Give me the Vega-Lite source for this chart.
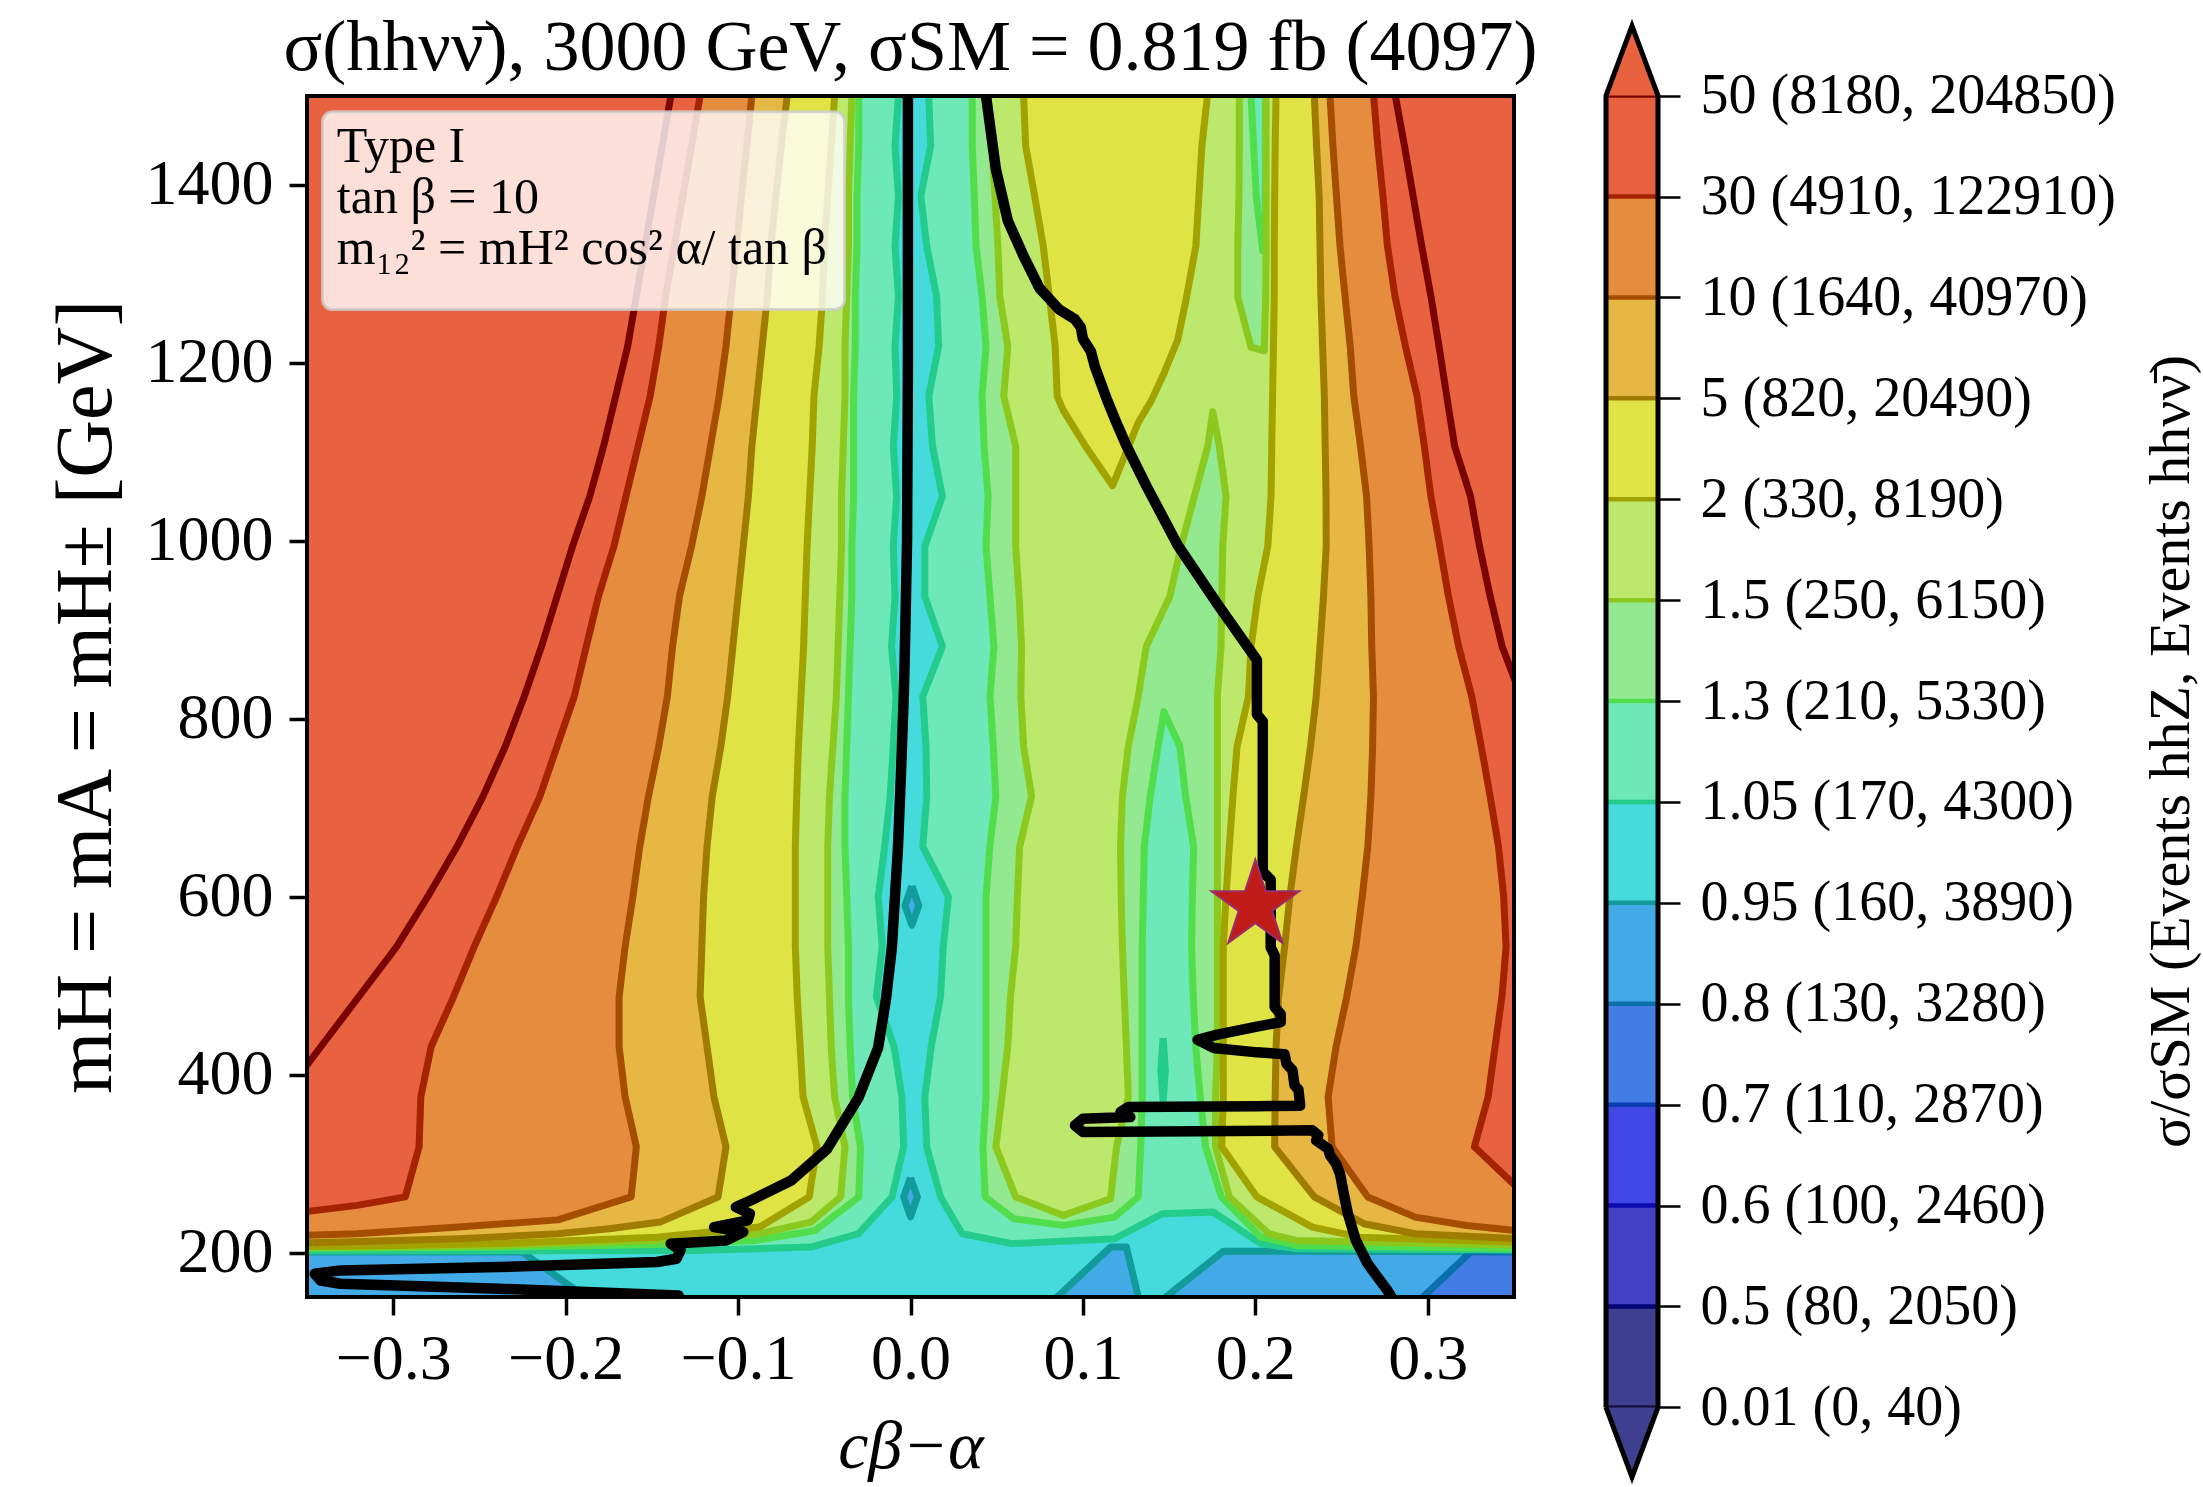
{
"$schema":"https://vega.github.io/schema/vega-lite/v6.json",
"background":"white",
"padding":{"left":46,"top":12,"right":5,"bottom":5},
"config":{"view":{"stroke":null},"font":"Liberation Serif","axis":{"labelFont":"Liberation Serif","titleFont":"Liberation Serif","labelColor":"black","titleColor":"black","tickColor":"black","domain":false,"grid":false,"titleFontWeight":"normal"}},
"datasets":{
"poly":[
{"g":"pL","x":-0.37,"y":200.5},{"g":"pL","x":-0.2251,"y":200.5},{"g":"pL","x":-0.1884,"y":150},{"g":"pL","x":-0.181,"y":140},{"g":"pL","x":-0.37,"y":140},
{"g":"pA","x":0.079,"y":140},{"g":"pA","x":0.0851,"y":150},{"g":"pA","x":0.116,"y":206.1},{"g":"pA","x":0.1252,"y":206.1},{"g":"pA","x":0.1321,"y":150},{"g":"pA","x":0.133,"y":140},
{"g":"pB","x":0.14,"y":140},{"g":"pB","x":0.1481,"y":150},{"g":"pB","x":0.1815,"y":201.5},{"g":"pB","x":0.37,"y":200.8},{"g":"pB","x":0.37,"y":140},
{"g":"d1","x":0.0008,"y":612},{"g":"d1","x":0.0048,"y":590},{"g":"d1","x":0.0008,"y":568},{"g":"d1","x":-0.0032,"y":590},{"g":"d1","x":0.0008,"y":612},
{"g":"d2","x":0,"y":284},{"g":"d2","x":0.004,"y":262.5},{"g":"d2","x":0,"y":240},{"g":"d2","x":-0.004,"y":262.5},{"g":"d2","x":0,"y":284},
{"g":"pC","x":0.293,"y":140},{"g":"pC","x":0.2972,"y":150},{"g":"pC","x":0.3248,"y":200.5},{"g":"pC","x":0.37,"y":200.5},{"g":"pC","x":0.37,"y":140},
{"g":"a105L","x":-0.37,"y":1520},{"g":"a105L","x":-0.007,"y":1520},{"g":"a105L","x":-0.007,"y":1500},{"g":"a105L","x":-0.009,"y":1443.8},{"g":"a105L","x":-0.007,"y":1387.5},{"g":"a105L","x":-0.009,"y":1331.3},{"g":"a105L","x":-0.007,"y":1275},{"g":"a105L","x":-0.009,"y":1218.8},{"g":"a105L","x":-0.008,"y":1162.5},{"g":"a105L","x":-0.01,"y":1106.3},{"g":"a105L","x":-0.008,"y":1050},{"g":"a105L","x":-0.01,"y":993.8},{"g":"a105L","x":-0.009,"y":937.5},{"g":"a105L","x":-0.011,"y":881.3},{"g":"a105L","x":-0.0084,"y":825},{"g":"a105L","x":-0.01,"y":768.8},{"g":"a105L","x":-0.0118,"y":712.5},{"g":"a105L","x":-0.015,"y":656.3},{"g":"a105L","x":-0.0187,"y":600},{"g":"a105L","x":-0.0164,"y":543.8},{"g":"a105L","x":-0.0198,"y":487.5},{"g":"a105L","x":-0.0095,"y":431.3},{"g":"a105L","x":-0.005,"y":375},{"g":"a105L","x":-0.004,"y":318.8},{"g":"a105L","x":-0.0107,"y":262.5},{"g":"a105L","x":-0.0302,"y":221.1},{"g":"a105L","x":-0.0577,"y":206.1},{"g":"a105L","x":-0.124,"y":202.4},{"g":"a105L","x":-0.355,"y":201.6},{"g":"a105L","x":-0.37,"y":201.6},
{"g":"a105R","x":0.0106,"y":1520},{"g":"a105R","x":0.0106,"y":1500},{"g":"a105R","x":0.0117,"y":1443.8},{"g":"a105R","x":0.006,"y":1387.5},{"g":"a105R","x":0.0094,"y":1331.3},{"g":"a105R","x":0.0151,"y":1275},{"g":"a105R","x":0.0163,"y":1218.8},{"g":"a105R","x":0.0106,"y":1162.5},{"g":"a105R","x":0.0128,"y":1106.3},{"g":"a105R","x":0.0185,"y":1050},{"g":"a105R","x":0.0083,"y":993.8},{"g":"a105R","x":0.0083,"y":937.5},{"g":"a105R","x":0.0185,"y":881.3},{"g":"a105R","x":0.0071,"y":825},{"g":"a105R","x":0.009,"y":768.8},{"g":"a105R","x":0.0094,"y":712.5},{"g":"a105R","x":0.0071,"y":656.3},{"g":"a105R","x":0.022,"y":600},{"g":"a105R","x":0.019,"y":543.8},{"g":"a105R","x":0.0174,"y":487.5},{"g":"a105R","x":0.012,"y":431.3},{"g":"a105R","x":0.0083,"y":375},{"g":"a105R","x":0.0094,"y":318.8},{"g":"a105R","x":0.0174,"y":262.5},{"g":"a105R","x":0.03,"y":221.1},{"g":"a105R","x":0.0587,"y":210},{"g":"a105R","x":0.1183,"y":215.5},{"g":"a105R","x":0.1459,"y":243.6},{"g":"a105R","x":0.1757,"y":245.5},{"g":"a105R","x":0.2032,"y":210},{"g":"a105R","x":0.2238,"y":204.2},{"g":"a105R","x":0.352,"y":202.8},{"g":"a105R","x":0.37,"y":202.8},{"g":"a105R","x":0.37,"y":1520},
{"g":"h105","x":0.1465,"y":441},{"g":"h105","x":0.1478,"y":405},{"g":"h105","x":0.1465,"y":370},{"g":"h105","x":0.1452,"y":405},{"g":"h105","x":0.1465,"y":441},
{"g":"a13L","x":-0.37,"y":1520},{"g":"a13L","x":-0.03,"y":1520},{"g":"a13L","x":-0.03,"y":1500},{"g":"a13L","x":-0.03,"y":1443.8},{"g":"a13L","x":-0.031,"y":1387.5},{"g":"a13L","x":-0.031,"y":1331.3},{"g":"a13L","x":-0.032,"y":1275},{"g":"a13L","x":-0.032,"y":1218.8},{"g":"a13L","x":-0.033,"y":1162.5},{"g":"a13L","x":-0.033,"y":1106.3},{"g":"a13L","x":-0.033,"y":1050},{"g":"a13L","x":-0.034,"y":993.8},{"g":"a13L","x":-0.034,"y":937.5},{"g":"a13L","x":-0.035,"y":881.3},{"g":"a13L","x":-0.036,"y":825},{"g":"a13L","x":-0.037,"y":768.8},{"g":"a13L","x":-0.038,"y":712.5},{"g":"a13L","x":-0.038,"y":656.3},{"g":"a13L","x":-0.037,"y":600},{"g":"a13L","x":-0.036,"y":543.8},{"g":"a13L","x":-0.036,"y":487.5},{"g":"a13L","x":-0.035,"y":431.3},{"g":"a13L","x":-0.0336,"y":375},{"g":"a13L","x":-0.029,"y":318.8},{"g":"a13L","x":-0.03,"y":262.5},{"g":"a13L","x":-0.0554,"y":224.8},{"g":"a13L","x":-0.0898,"y":213.6},{"g":"a13L","x":-0.147,"y":209},{"g":"a13L","x":-0.239,"y":206},{"g":"a13L","x":-0.355,"y":204.5},{"g":"a13L","x":-0.37,"y":204.5},
{"g":"a13R","x":0.0358,"y":1520},{"g":"a13R","x":0.0358,"y":1500},{"g":"a13R","x":0.0358,"y":1443.8},{"g":"a13R","x":0.037,"y":1387.5},{"g":"a13R","x":0.038,"y":1331.3},{"g":"a13R","x":0.0415,"y":1275},{"g":"a13R","x":0.0438,"y":1218.8},{"g":"a13R","x":0.0415,"y":1162.5},{"g":"a13R","x":0.0427,"y":1106.3},{"g":"a13R","x":0.045,"y":1050},{"g":"a13R","x":0.0438,"y":993.8},{"g":"a13R","x":0.0461,"y":937.5},{"g":"a13R","x":0.0484,"y":881.3},{"g":"a13R","x":0.0461,"y":825},{"g":"a13R","x":0.048,"y":768.8},{"g":"a13R","x":0.0495,"y":712.5},{"g":"a13R","x":0.046,"y":656.3},{"g":"a13R","x":0.0438,"y":600},{"g":"a13R","x":0.0438,"y":543.8},{"g":"a13R","x":0.0438,"y":487.5},{"g":"a13R","x":0.0438,"y":431.3},{"g":"a13R","x":0.0438,"y":375},{"g":"a13R","x":0.042,"y":318.8},{"g":"a13R","x":0.0433,"y":262.5},{"g":"a13R","x":0.0599,"y":238},{"g":"a13R","x":0.0886,"y":230.5},{"g":"a13R","x":0.1183,"y":239.8},{"g":"a13R","x":0.1321,"y":262.5},{"g":"a13R","x":0.1335,"y":318.8},{"g":"a13R","x":0.1344,"y":375},{"g":"a13R","x":0.1344,"y":431.3},{"g":"a13R","x":0.1344,"y":487.5},{"g":"a13R","x":0.1344,"y":543.8},{"g":"a13R","x":0.135,"y":600},{"g":"a13R","x":0.1356,"y":656.3},{"g":"a13R","x":0.139,"y":712.5},{"g":"a13R","x":0.1436,"y":768.8},{"g":"a13R","x":0.147,"y":808},{"g":"a13R","x":0.1562,"y":768.8},{"g":"a13R","x":0.1596,"y":712.5},{"g":"a13R","x":0.1642,"y":656.3},{"g":"a13R","x":0.1635,"y":600},{"g":"a13R","x":0.163,"y":543.8},{"g":"a13R","x":0.164,"y":487.5},{"g":"a13R","x":0.1654,"y":431.3},{"g":"a13R","x":0.168,"y":375},{"g":"a13R","x":0.1711,"y":318.8},{"g":"a13R","x":0.1803,"y":262.5},{"g":"a13R","x":0.2032,"y":217.3},{"g":"a13R","x":0.2238,"y":208},{"g":"a13R","x":0.352,"y":204.5},{"g":"a13R","x":0.37,"y":204.5},{"g":"a13R","x":0.37,"y":1520},
{"g":"h13","x":0.1975,"y":1520},{"g":"h13","x":0.1975,"y":1500},{"g":"h13","x":0.199,"y":1443.8},{"g":"h13","x":0.2005,"y":1387.5},{"g":"h13","x":0.2043,"y":1326},{"g":"h13","x":0.2058,"y":1335},{"g":"h13","x":0.2058,"y":1443.8},{"g":"h13","x":0.2058,"y":1520},
{"g":"a15L","x":-0.37,"y":1520},{"g":"a15L","x":-0.034,"y":1520},{"g":"a15L","x":-0.034,"y":1500},{"g":"a15L","x":-0.035,"y":1443.8},{"g":"a15L","x":-0.036,"y":1387.5},{"g":"a15L","x":-0.036,"y":1331.3},{"g":"a15L","x":-0.037,"y":1275},{"g":"a15L","x":-0.038,"y":1218.8},{"g":"a15L","x":-0.038,"y":1162.5},{"g":"a15L","x":-0.039,"y":1106.3},{"g":"a15L","x":-0.04,"y":1050},{"g":"a15L","x":-0.04,"y":993.8},{"g":"a15L","x":-0.041,"y":937.5},{"g":"a15L","x":-0.042,"y":881.3},{"g":"a15L","x":-0.043,"y":825},{"g":"a15L","x":-0.045,"y":768.8},{"g":"a15L","x":-0.047,"y":712.5},{"g":"a15L","x":-0.048,"y":656.3},{"g":"a15L","x":-0.048,"y":600},{"g":"a15L","x":-0.048,"y":543.8},{"g":"a15L","x":-0.047,"y":487.5},{"g":"a15L","x":-0.046,"y":431.3},{"g":"a15L","x":-0.044,"y":375},{"g":"a15L","x":-0.038,"y":318.8},{"g":"a15L","x":-0.0405,"y":262.5},{"g":"a15L","x":-0.0577,"y":234.2},{"g":"a15L","x":-0.0875,"y":221.1},{"g":"a15L","x":-0.147,"y":213.5},{"g":"a15L","x":-0.239,"y":208},{"g":"a15L","x":-0.355,"y":206},{"g":"a15L","x":-0.37,"y":206},
{"g":"a15R","x":0.0438,"y":1520},{"g":"a15R","x":0.0438,"y":1500},{"g":"a15R","x":0.047,"y":1443.8},{"g":"a15R","x":0.049,"y":1387.5},{"g":"a15R","x":0.0507,"y":1331.3},{"g":"a15R","x":0.0518,"y":1275},{"g":"a15R","x":0.0564,"y":1218.8},{"g":"a15R","x":0.0541,"y":1162.5},{"g":"a15R","x":0.061,"y":1106.3},{"g":"a15R","x":0.061,"y":1050},{"g":"a15R","x":0.061,"y":993.8},{"g":"a15R","x":0.063,"y":937.5},{"g":"a15R","x":0.0644,"y":881.3},{"g":"a15R","x":0.064,"y":825},{"g":"a15R","x":0.0656,"y":768.8},{"g":"a15R","x":0.0702,"y":712.5},{"g":"a15R","x":0.0633,"y":656.3},{"g":"a15R","x":0.062,"y":600},{"g":"a15R","x":0.061,"y":543.8},{"g":"a15R","x":0.058,"y":487.5},{"g":"a15R","x":0.0564,"y":431.3},{"g":"a15R","x":0.053,"y":375},{"g":"a15R","x":0.0495,"y":318.8},{"g":"a15R","x":0.061,"y":262.5},{"g":"a15R","x":0.0886,"y":241.7},{"g":"a15R","x":0.116,"y":260.5},{"g":"a15R","x":0.1195,"y":318.8},{"g":"a15R","x":0.1263,"y":375},{"g":"a15R","x":0.1252,"y":431.3},{"g":"a15R","x":0.124,"y":487.5},{"g":"a15R","x":0.1229,"y":543.8},{"g":"a15R","x":0.1222,"y":600},{"g":"a15R","x":0.1218,"y":656.3},{"g":"a15R","x":0.1229,"y":712.5},{"g":"a15R","x":0.1263,"y":768.8},{"g":"a15R","x":0.1321,"y":825},{"g":"a15R","x":0.1367,"y":881.3},{"g":"a15R","x":0.1504,"y":937.5},{"g":"a15R","x":0.1569,"y":993.8},{"g":"a15R","x":0.1646,"y":1050},{"g":"a15R","x":0.1724,"y":1106.3},{"g":"a15R","x":0.1753,"y":1145},{"g":"a15R","x":0.1791,"y":1106.3},{"g":"a15R","x":0.183,"y":1050},{"g":"a15R","x":0.1811,"y":993.8},{"g":"a15R","x":0.1805,"y":937.5},{"g":"a15R","x":0.1801,"y":881.3},{"g":"a15R","x":0.178,"y":825},{"g":"a15R","x":0.178,"y":768.8},{"g":"a15R","x":0.178,"y":712.5},{"g":"a15R","x":0.178,"y":656.3},{"g":"a15R","x":0.178,"y":600},{"g":"a15R","x":0.178,"y":543.8},{"g":"a15R","x":0.178,"y":487.5},{"g":"a15R","x":0.178,"y":431.3},{"g":"a15R","x":0.1769,"y":375},{"g":"a15R","x":0.1769,"y":318.8},{"g":"a15R","x":0.1849,"y":262.5},{"g":"a15R","x":0.2078,"y":221.1},{"g":"a15R","x":0.2238,"y":213.6},{"g":"a15R","x":0.352,"y":208},{"g":"a15R","x":0.37,"y":208},{"g":"a15R","x":0.37,"y":1520},{"g":"a15R","x":0.2062,"y":1520},{"g":"a15R","x":0.2062,"y":1500},{"g":"a15R","x":0.2062,"y":1443.8},{"g":"a15R","x":0.2062,"y":1387.5},{"g":"a15R","x":0.2062,"y":1331.3},{"g":"a15R","x":0.206,"y":1275},{"g":"a15R","x":0.2052,"y":1218.8},{"g":"a15R","x":0.2052,"y":1213.6},{"g":"a15R","x":0.1975,"y":1217.6},{"g":"a15R","x":0.1898,"y":1274},{"g":"a15R","x":0.1898,"y":1331.3},{"g":"a15R","x":0.1905,"y":1387.5},{"g":"a15R","x":0.1907,"y":1443.8},{"g":"a15R","x":0.1907,"y":1500},{"g":"a15R","x":0.1907,"y":1520},
{"g":"a2L","x":-0.37,"y":1520},{"g":"a2L","x":-0.044,"y":1520},{"g":"a2L","x":-0.044,"y":1500},{"g":"a2L","x":-0.046,"y":1443.8},{"g":"a2L","x":-0.048,"y":1387.5},{"g":"a2L","x":-0.05,"y":1331.3},{"g":"a2L","x":-0.051,"y":1275},{"g":"a2L","x":-0.053,"y":1218.8},{"g":"a2L","x":-0.056,"y":1162.5},{"g":"a2L","x":-0.057,"y":1106.3},{"g":"a2L","x":-0.0585,"y":1050},{"g":"a2L","x":-0.06,"y":993.8},{"g":"a2L","x":-0.061,"y":937.5},{"g":"a2L","x":-0.062,"y":881.3},{"g":"a2L","x":-0.0635,"y":825},{"g":"a2L","x":-0.065,"y":768.8},{"g":"a2L","x":-0.066,"y":712.5},{"g":"a2L","x":-0.0668,"y":656.3},{"g":"a2L","x":-0.0668,"y":600},{"g":"a2L","x":-0.0668,"y":543.8},{"g":"a2L","x":-0.0657,"y":487.5},{"g":"a2L","x":-0.064,"y":431.3},{"g":"a2L","x":-0.0623,"y":375},{"g":"a2L","x":-0.0542,"y":318.8},{"g":"a2L","x":-0.0588,"y":262.5},{"g":"a2L","x":-0.0875,"y":228.6},{"g":"a2L","x":-0.147,"y":217.3},{"g":"a2L","x":-0.239,"y":210},{"g":"a2L","x":-0.3,"y":208},{"g":"a2L","x":-0.355,"y":207},{"g":"a2L","x":-0.37,"y":207},
{"g":"a2M","x":0.0656,"y":1520},{"g":"a2M","x":0.0656,"y":1500},{"g":"a2M","x":0.0668,"y":1443.8},{"g":"a2M","x":0.072,"y":1387.5},{"g":"a2M","x":0.077,"y":1331.3},{"g":"a2M","x":0.0805,"y":1275},{"g":"a2M","x":0.0839,"y":1218.8},{"g":"a2M","x":0.0851,"y":1162.5},{"g":"a2M","x":0.0885,"y":1147},{"g":"a2M","x":0.1023,"y":1104},{"g":"a2M","x":0.1172,"y":1062},{"g":"a2M","x":0.1321,"y":1133},{"g":"a2M","x":0.1395,"y":1157},{"g":"a2M","x":0.1465,"y":1186},{"g":"a2M","x":0.155,"y":1226},{"g":"a2M","x":0.1597,"y":1270},{"g":"a2M","x":0.1655,"y":1331.3},{"g":"a2M","x":0.169,"y":1443.8},{"g":"a2M","x":0.1722,"y":1500},{"g":"a2M","x":0.1722,"y":1520},
{"g":"a2R","x":0.212,"y":1520},{"g":"a2R","x":0.212,"y":1500},{"g":"a2R","x":0.2115,"y":1443.8},{"g":"a2R","x":0.2112,"y":1387.5},{"g":"a2R","x":0.211,"y":1331.3},{"g":"a2R","x":0.211,"y":1275},{"g":"a2R","x":0.2105,"y":1218.8},{"g":"a2R","x":0.21,"y":1162.5},{"g":"a2R","x":0.2095,"y":1106.3},{"g":"a2R","x":0.2091,"y":1050},{"g":"a2R","x":0.2072,"y":993.8},{"g":"a2R","x":0.2014,"y":937.5},{"g":"a2R","x":0.1975,"y":881.3},{"g":"a2R","x":0.196,"y":825},{"g":"a2R","x":0.1894,"y":768.8},{"g":"a2R","x":0.187,"y":712.5},{"g":"a2R","x":0.1849,"y":656.3},{"g":"a2R","x":0.183,"y":600},{"g":"a2R","x":0.1814,"y":543.8},{"g":"a2R","x":0.1814,"y":487.5},{"g":"a2R","x":0.1814,"y":431.3},{"g":"a2R","x":0.1814,"y":375},{"g":"a2R","x":0.1805,"y":318.8},{"g":"a2R","x":0.2009,"y":262.5},{"g":"a2R","x":0.233,"y":228.6},{"g":"a2R","x":0.2605,"y":217.3},{"g":"a2R","x":0.352,"y":211.7},{"g":"a2R","x":0.37,"y":211.5},{"g":"a2R","x":0.37,"y":1520},
{"g":"a5L","x":-0.37,"y":1520},{"g":"a5L","x":-0.0715,"y":1520},{"g":"a5L","x":-0.0715,"y":1500},{"g":"a5L","x":-0.075,"y":1443.8},{"g":"a5L","x":-0.078,"y":1387.5},{"g":"a5L","x":-0.081,"y":1331.3},{"g":"a5L","x":-0.083,"y":1275},{"g":"a5L","x":-0.086,"y":1218.8},{"g":"a5L","x":-0.089,"y":1162.5},{"g":"a5L","x":-0.092,"y":1106.3},{"g":"a5L","x":-0.094,"y":1050},{"g":"a5L","x":-0.097,"y":993.8},{"g":"a5L","x":-0.1,"y":937.5},{"g":"a5L","x":-0.103,"y":881.3},{"g":"a5L","x":-0.106,"y":825},{"g":"a5L","x":-0.11,"y":768.8},{"g":"a5L","x":-0.115,"y":712.5},{"g":"a5L","x":-0.118,"y":656.3},{"g":"a5L","x":-0.12,"y":600},{"g":"a5L","x":-0.121,"y":543.8},{"g":"a5L","x":-0.122,"y":487.5},{"g":"a5L","x":-0.118,"y":431.3},{"g":"a5L","x":-0.114,"y":375},{"g":"a5L","x":-0.107,"y":318.8},{"g":"a5L","x":-0.1116,"y":262.5},{"g":"a5L","x":-0.1452,"y":234.2},{"g":"a5L","x":-0.1747,"y":226.7},{"g":"a5L","x":-0.2045,"y":221.1},{"g":"a5L","x":-0.262,"y":215.5},{"g":"a5L","x":-0.331,"y":211.7},{"g":"a5L","x":-0.355,"y":210.8},{"g":"a5L","x":-0.37,"y":210.5},
{"g":"a5R","x":0.2342,"y":1520},{"g":"a5R","x":0.2342,"y":1500},{"g":"a5R","x":0.2355,"y":1443.8},{"g":"a5R","x":0.237,"y":1387.5},{"g":"a5R","x":0.2375,"y":1331.3},{"g":"a5R","x":0.238,"y":1275},{"g":"a5R","x":0.239,"y":1218.8},{"g":"a5R","x":0.24,"y":1162.5},{"g":"a5R","x":0.2405,"y":1106.3},{"g":"a5R","x":0.241,"y":1050},{"g":"a5R","x":0.2411,"y":993.8},{"g":"a5R","x":0.2395,"y":937.5},{"g":"a5R","x":0.2375,"y":881.3},{"g":"a5R","x":0.2353,"y":825},{"g":"a5R","x":0.232,"y":768.8},{"g":"a5R","x":0.228,"y":712.5},{"g":"a5R","x":0.2238,"y":656.3},{"g":"a5R","x":0.22,"y":600},{"g":"a5R","x":0.217,"y":543.8},{"g":"a5R","x":0.2135,"y":487.5},{"g":"a5R","x":0.212,"y":431.3},{"g":"a5R","x":0.2115,"y":375},{"g":"a5R","x":0.2112,"y":318.8},{"g":"a5R","x":0.2342,"y":262.5},{"g":"a5R","x":0.2629,"y":232.4},{"g":"a5R","x":0.2927,"y":221.1},{"g":"a5R","x":0.352,"y":215.5},{"g":"a5R","x":0.37,"y":215},{"g":"a5R","x":0.37,"y":1520},
{"g":"a10L","x":-0.37,"y":1520},{"g":"a10L","x":-0.092,"y":1520},{"g":"a10L","x":-0.092,"y":1500},{"g":"a10L","x":-0.095,"y":1443.8},{"g":"a10L","x":-0.098,"y":1387.5},{"g":"a10L","x":-0.101,"y":1331.3},{"g":"a10L","x":-0.104,"y":1275},{"g":"a10L","x":-0.107,"y":1218.8},{"g":"a10L","x":-0.111,"y":1162.5},{"g":"a10L","x":-0.116,"y":1106.3},{"g":"a10L","x":-0.121,"y":1050},{"g":"a10L","x":-0.127,"y":993.8},{"g":"a10L","x":-0.134,"y":937.5},{"g":"a10L","x":-0.138,"y":881.3},{"g":"a10L","x":-0.141,"y":825},{"g":"a10L","x":-0.146,"y":768.8},{"g":"a10L","x":-0.152,"y":712.5},{"g":"a10L","x":-0.157,"y":656.3},{"g":"a10L","x":-0.161,"y":600},{"g":"a10L","x":-0.1655,"y":543.8},{"g":"a10L","x":-0.169,"y":487.5},{"g":"a10L","x":-0.169,"y":431.3},{"g":"a10L","x":-0.1655,"y":375},{"g":"a10L","x":-0.159,"y":318.8},{"g":"a10L","x":-0.162,"y":262.5},{"g":"a10L","x":-0.2045,"y":236.7},{"g":"a10L","x":-0.262,"y":228.6},{"g":"a10L","x":-0.321,"y":221},{"g":"a10L","x":-0.355,"y":219},{"g":"a10L","x":-0.37,"y":218.5},
{"g":"a10R","x":0.2433,"y":1520},{"g":"a10R","x":0.2433,"y":1500},{"g":"a10R","x":0.245,"y":1443.8},{"g":"a10R","x":0.247,"y":1387.5},{"g":"a10R","x":0.2491,"y":1331.3},{"g":"a10R","x":0.252,"y":1275},{"g":"a10R","x":0.255,"y":1218.8},{"g":"a10R","x":0.2571,"y":1162.5},{"g":"a10R","x":0.261,"y":1106.3},{"g":"a10R","x":0.2645,"y":1050},{"g":"a10R","x":0.266,"y":993.8},{"g":"a10R","x":0.267,"y":937.5},{"g":"a10R","x":0.2675,"y":881.3},{"g":"a10R","x":0.2685,"y":825},{"g":"a10R","x":0.268,"y":768.8},{"g":"a10R","x":0.267,"y":712.5},{"g":"a10R","x":0.2652,"y":656.3},{"g":"a10R","x":0.262,"y":600},{"g":"a10R","x":0.2583,"y":543.8},{"g":"a10R","x":0.253,"y":487.5},{"g":"a10R","x":0.2468,"y":431.3},{"g":"a10R","x":0.2422,"y":375},{"g":"a10R","x":0.2445,"y":318.8},{"g":"a10R","x":0.2652,"y":262.5},{"g":"a10R","x":0.2927,"y":239.8},{"g":"a10R","x":0.3225,"y":230.4},{"g":"a10R","x":0.352,"y":224.5},{"g":"a10R","x":0.37,"y":224},{"g":"a10R","x":0.37,"y":1520},
{"g":"a30L","x":-0.37,"y":1520},{"g":"a30L","x":-0.122,"y":1520},{"g":"a30L","x":-0.122,"y":1500},{"g":"a30L","x":-0.127,"y":1443.8},{"g":"a30L","x":-0.132,"y":1387.5},{"g":"a30L","x":-0.137,"y":1331.3},{"g":"a30L","x":-0.142,"y":1275},{"g":"a30L","x":-0.146,"y":1218.8},{"g":"a30L","x":-0.151,"y":1162.5},{"g":"a30L","x":-0.158,"y":1106.3},{"g":"a30L","x":-0.165,"y":1050},{"g":"a30L","x":-0.172,"y":993.8},{"g":"a30L","x":-0.181,"y":937.5},{"g":"a30L","x":-0.188,"y":881.3},{"g":"a30L","x":-0.195,"y":825},{"g":"a30L","x":-0.205,"y":768.8},{"g":"a30L","x":-0.215,"y":712.5},{"g":"a30L","x":-0.228,"y":656.3},{"g":"a30L","x":-0.24,"y":600},{"g":"a30L","x":-0.253,"y":543.8},{"g":"a30L","x":-0.265,"y":487.5},{"g":"a30L","x":-0.278,"y":431.3},{"g":"a30L","x":-0.284,"y":375},{"g":"a30L","x":-0.285,"y":318.8},{"g":"a30L","x":-0.293,"y":262.5},{"g":"a30L","x":-0.321,"y":253},{"g":"a30L","x":-0.355,"y":245},{"g":"a30L","x":-0.37,"y":244},
{"g":"a30R","x":0.2686,"y":1520},{"g":"a30R","x":0.2686,"y":1500},{"g":"a30R","x":0.271,"y":1443.8},{"g":"a30R","x":0.274,"y":1387.5},{"g":"a30R","x":0.2766,"y":1331.3},{"g":"a30R","x":0.281,"y":1275},{"g":"a30R","x":0.287,"y":1218.8},{"g":"a30R","x":0.2938,"y":1162.5},{"g":"a30R","x":0.298,"y":1106.3},{"g":"a30R","x":0.3018,"y":1050},{"g":"a30R","x":0.307,"y":993.8},{"g":"a30R","x":0.312,"y":937.5},{"g":"a30R","x":0.3179,"y":881.3},{"g":"a30R","x":0.3255,"y":825},{"g":"a30R","x":0.331,"y":768.8},{"g":"a30R","x":0.3362,"y":712.5},{"g":"a30R","x":0.341,"y":656.3},{"g":"a30R","x":0.344,"y":600},{"g":"a30R","x":0.3454,"y":543.8},{"g":"a30R","x":0.343,"y":487.5},{"g":"a30R","x":0.339,"y":431.3},{"g":"a30R","x":0.335,"y":375},{"g":"a30R","x":0.327,"y":318.8},{"g":"a30R","x":0.352,"y":273},{"g":"a30R","x":0.37,"y":270},{"g":"a30R","x":0.37,"y":1520},
{"g":"a50L","x":-0.37,"y":1520},{"g":"a50L","x":-0.139,"y":1520},{"g":"a50L","x":-0.139,"y":1500},{"g":"a50L","x":-0.144,"y":1443.8},{"g":"a50L","x":-0.149,"y":1387.5},{"g":"a50L","x":-0.154,"y":1331.3},{"g":"a50L","x":-0.159,"y":1275},{"g":"a50L","x":-0.164,"y":1218.8},{"g":"a50L","x":-0.171,"y":1162.5},{"g":"a50L","x":-0.178,"y":1106.3},{"g":"a50L","x":-0.186,"y":1050},{"g":"a50L","x":-0.196,"y":993.8},{"g":"a50L","x":-0.205,"y":937.5},{"g":"a50L","x":-0.214,"y":881.3},{"g":"a50L","x":-0.224,"y":825},{"g":"a50L","x":-0.235,"y":768.8},{"g":"a50L","x":-0.248,"y":712.5},{"g":"a50L","x":-0.263,"y":656.3},{"g":"a50L","x":-0.28,"y":600},{"g":"a50L","x":-0.298,"y":543.8},{"g":"a50L","x":-0.32,"y":487.5},{"g":"a50L","x":-0.342,"y":431.3},{"g":"a50L","x":-0.355,"y":398},{"g":"a50L","x":-0.37,"y":395},
{"g":"a50R","x":0.2812,"y":1520},{"g":"a50R","x":0.2812,"y":1500},{"g":"a50R","x":0.2865,"y":1443.8},{"g":"a50R","x":0.2915,"y":1387.5},{"g":"a50R","x":0.2965,"y":1331.3},{"g":"a50R","x":0.3018,"y":1275},{"g":"a50R","x":0.3065,"y":1218.8},{"g":"a50R","x":0.311,"y":1162.5},{"g":"a50R","x":0.3156,"y":1106.3},{"g":"a50R","x":0.3248,"y":1050},{"g":"a50R","x":0.33,"y":993.8},{"g":"a50R","x":0.3362,"y":937.5},{"g":"a50R","x":0.3431,"y":881.3},{"g":"a50R","x":0.352,"y":836},{"g":"a50R","x":0.37,"y":828},{"g":"a50R","x":0.37,"y":1520}
],
"black":[
{"g":"L","x":-0.0015,"y":1500},{"g":"L","x":-0.0015,"y":1200},{"g":"L","x":-0.002,"y":1000},{"g":"L","x":-0.003,"y":900},{"g":"L","x":-0.0038,"y":832},{"g":"L","x":-0.0055,"y":740},{"g":"L","x":-0.0073,"y":654},{"g":"L","x":-0.0108,"y":543},{"g":"L","x":-0.0142,"y":485},{"g":"L","x":-0.0188,"y":430},{"g":"L","x":-0.0302,"y":374},{"g":"L","x":-0.0485,"y":316},{"g":"L","x":-0.0692,"y":281},{"g":"L","x":-0.0921,"y":259},{"g":"L","x":-0.1013,"y":251.1},{"g":"L","x":-0.0932,"y":243.6},{"g":"L","x":-0.0944,"y":236.1},{"g":"L","x":-0.1139,"y":228.6},{"g":"L","x":-0.097,"y":223},{"g":"L","x":-0.107,"y":213.6},{"g":"L","x":-0.1391,"y":209.9},{"g":"L","x":-0.1334,"y":202.4},{"g":"L","x":-0.1357,"y":193},{"g":"L","x":-0.1471,"y":189.3},{"g":"L","x":-0.2389,"y":183.6},{"g":"L","x":-0.3306,"y":179.9},{"g":"L","x":-0.3455,"y":176.1},{"g":"L","x":-0.3421,"y":168.6},{"g":"L","x":-0.3306,"y":164.9},{"g":"L","x":-0.2389,"y":159.3},{"g":"L","x":-0.1345,"y":151.8},
{"g":"R","x":0.0438,"y":1500},{"g":"R","x":0.0495,"y":1418},{"g":"R","x":0.0564,"y":1360},{"g":"R","x":0.0656,"y":1320},{"g":"R","x":0.0748,"y":1284},{"g":"R","x":0.0862,"y":1260},{"g":"R","x":0.0954,"y":1249},{"g":"R","x":0.0988,"y":1240},{"g":"R","x":0.1,"y":1227},{"g":"R","x":0.1046,"y":1213},{"g":"R","x":0.1069,"y":1196},{"g":"R","x":0.1103,"y":1178},{"g":"R","x":0.1137,"y":1160},{"g":"R","x":0.1183,"y":1138},{"g":"R","x":0.1252,"y":1107},{"g":"R","x":0.1367,"y":1062},{"g":"R","x":0.155,"y":995},{"g":"R","x":0.178,"y":929},{"g":"R","x":0.2009,"y":866},{"g":"R","x":0.2009,"y":805},{"g":"R","x":0.2043,"y":797},{"g":"R","x":0.2043,"y":628},{"g":"R","x":0.2089,"y":619},{"g":"R","x":0.2089,"y":543},{"g":"R","x":0.2112,"y":534},{"g":"R","x":0.2112,"y":476},{"g":"R","x":0.2147,"y":468},{"g":"R","x":0.2147,"y":459},{"g":"R","x":0.2009,"y":454},{"g":"R","x":0.178,"y":445},{"g":"R","x":0.1665,"y":439},{"g":"R","x":0.1757,"y":430},{"g":"R","x":0.2009,"y":425},{"g":"R","x":0.2169,"y":423},{"g":"R","x":0.2181,"y":412},{"g":"R","x":0.2215,"y":405},{"g":"R","x":0.2227,"y":388},{"g":"R","x":0.225,"y":383},{"g":"R","x":0.226,"y":365},{"g":"R","x":0.2009,"y":364.4},{"g":"R","x":0.1264,"y":363.5},{"g":"R","x":0.1218,"y":357.9},{"g":"R","x":0.1275,"y":352.3},{"g":"R","x":0.1,"y":350.4},{"g":"R","x":0.0954,"y":342.9},{"g":"R","x":0.1,"y":335.4},{"g":"R","x":0.233,"y":337.3},{"g":"R","x":0.2365,"y":331.7},{"g":"R","x":0.2353,"y":326.1},{"g":"R","x":0.2422,"y":316.7},{"g":"R","x":0.2433,"y":309.2},{"g":"R","x":0.2468,"y":299.8},{"g":"R","x":0.2491,"y":288.6},{"g":"R","x":0.2514,"y":265},{"g":"R","x":0.2537,"y":243.6},{"g":"R","x":0.2583,"y":213.6},{"g":"R","x":0.2651,"y":187.4},{"g":"R","x":0.2766,"y":157.4},{"g":"R","x":0.2789,"y":150}
],
"star":[{"x":0.2,"y":590}],
"cb":[{"b":0,"lo":0,"hi":1},{"b":1,"lo":1,"hi":2},{"b":2,"lo":2,"hi":3},{"b":3,"lo":3,"hi":4},{"b":4,"lo":4,"hi":5},{"b":5,"lo":5,"hi":6},{"b":6,"lo":6,"hi":7},{"b":7,"lo":7,"hi":8},{"b":8,"lo":8,"hi":9},{"b":9,"lo":9,"hi":10},{"b":10,"lo":10,"hi":11},{"b":11,"lo":11,"hi":12},{"b":12,"lo":12,"hi":13}],
"clev":[{"lv":0},{"lv":1},{"lv":2},{"lv":3},{"lv":4},{"lv":5},{"lv":6},{"lv":7},{"lv":8},{"lv":9},{"lv":10},{"lv":11},{"lv":12},{"lv":13}],
"ctri":[{"t":"top","x":0,"y":13},{"t":"top","x":0.5,"y":13.69},{"t":"top","x":1,"y":13},{"t":"bot","x":0,"y":0},{"t":"bot","x":0.5,"y":-0.69},{"t":"bot","x":1,"y":0}],
"cout":[{"x":0,"y":0},{"x":0.5,"y":-0.69},{"x":1,"y":0},{"x":1,"y":13},{"x":0.5,"y":13.69},{"x":0,"y":13},{"x":0,"y":0}]
},
"spacing":58,
"hconcat":[
{"spacing":10,"vconcat":[
{"width":1207,"height":44,"data":{"values":[{}]},"mark":{"type":"text","text":"σ(hhνν̄), 3000 GeV, σSM = 0.819 fb (4097)","fontSize":72,"font":"Liberation Serif","align":"center","baseline":"middle","color":"black"}},
{
"width":1207,"height":1201,
"layer":[
{"data":{"values":[{}]},"mark":{"type":"rect","fill":"#45dadc"},"encoding":{"x":{"datum":-0.35,"type":"quantitative","scale":{"domain":[-0.35,0.35]}},"x2":{"datum":0.35},"y":{"datum":150,"type":"quantitative","scale":{"domain":[150,1500]}},"y2":{"datum":1500}}},
{"data":{"name":"poly"},"transform":[{"filter":{"field":"g","oneOf":["pL","pA","pB","d1","d2"]}}],"mark":{"type":"line","fill":"#42aae6","stroke":"#119b9b","strokeWidth":7,"strokeJoin":"round","clip":true},"encoding":{
"x":{"field":"x","type":"quantitative","scale":{"domain":[-0.35,0.35],"nice":false,"zero":false},"axis":{"title":"cβ−α","values":[-0.3,-0.2,-0.1,0,0.1,0.2,0.3],"format":".1f","labelFontSize":64,"titleFontSize":68,"titleFontStyle":"italic","tickSize":18,"tickWidth":3.5,"labelPadding":12,"titlePadding":22}},
"y":{"field":"y","type":"quantitative","scale":{"domain":[150,1500],"nice":false,"zero":false},"axis":{"title":"mH = mA = mH± [GeV]","values":[200,400,600,800,1000,1200,1400],"format":"d","labelFontSize":64,"titleFontSize":80,"tickSize":18,"tickWidth":3.5,"labelPadding":16,"titlePadding":18}},
"detail":{"field":"g"},"order":{"value":null}}},
{"data":{"name":"poly"},"transform":[{"filter":{"field":"g","oneOf":["pC"]}}],"mark":{"type":"line","fill":"#427de6","stroke":"#0a70ad","strokeWidth":7,"strokeJoin":"round","clip":true},"encoding":{"x":{"field":"x","type":"quantitative"},"y":{"field":"y","type":"quantitative"},"detail":{"field":"g"},"order":{"value":null}}},
{"data":{"name":"poly"},"transform":[{"filter":{"field":"g","oneOf":["a105L","a105R"]}}],"mark":{"type":"line","fill":"#6de8b9","stroke":"#23cc8c","strokeWidth":7,"strokeJoin":"round","clip":true},"encoding":{"x":{"field":"x","type":"quantitative"},"y":{"field":"y","type":"quantitative"},"detail":{"field":"g"},"order":{"value":null}}},
{"data":{"name":"poly"},"transform":[{"filter":{"field":"g","oneOf":["h105"]}}],"mark":{"type":"line","fill":"#45dadc","stroke":"#23cc8c","strokeWidth":7,"strokeJoin":"round","clip":true},"encoding":{"x":{"field":"x","type":"quantitative"},"y":{"field":"y","type":"quantitative"},"detail":{"field":"g"},"order":{"value":null}}},
{"data":{"name":"poly"},"transform":[{"filter":{"field":"g","oneOf":["a13L","a13R"]}}],"mark":{"type":"line","fill":"#93e98f","stroke":"#52dd4c","strokeWidth":7,"strokeJoin":"round","clip":true},"encoding":{"x":{"field":"x","type":"quantitative"},"y":{"field":"y","type":"quantitative"},"detail":{"field":"g"},"order":{"value":null}}},
{"data":{"name":"poly"},"transform":[{"filter":{"field":"g","oneOf":["h13"]}}],"mark":{"type":"line","fill":"#6de8b9","stroke":"#52dd4c","strokeWidth":7,"strokeJoin":"round","clip":true},"encoding":{"x":{"field":"x","type":"quantitative"},"y":{"field":"y","type":"quantitative"},"detail":{"field":"g"},"order":{"value":null}}},
{"data":{"name":"poly"},"transform":[{"filter":{"field":"g","oneOf":["a15L","a15R"]}}],"mark":{"type":"line","fill":"#bce86b","stroke":"#8bc91f","strokeWidth":7,"strokeJoin":"round","clip":true},"encoding":{"x":{"field":"x","type":"quantitative"},"y":{"field":"y","type":"quantitative"},"detail":{"field":"g"},"order":{"value":null}}},
{"data":{"name":"poly"},"transform":[{"filter":{"field":"g","oneOf":["a2L","a2M","a2R"]}}],"mark":{"type":"line","fill":"#dfe444","stroke":"#a2a200","strokeWidth":7,"strokeJoin":"round","clip":true},"encoding":{"x":{"field":"x","type":"quantitative"},"y":{"field":"y","type":"quantitative"},"detail":{"field":"g"},"order":{"value":null}}},
{"data":{"name":"poly"},"transform":[{"filter":{"field":"g","oneOf":["a5L","a5R"]}}],"mark":{"type":"line","fill":"#e6b843","stroke":"#9f7b00","strokeWidth":7,"strokeJoin":"round","clip":true},"encoding":{"x":{"field":"x","type":"quantitative"},"y":{"field":"y","type":"quantitative"},"detail":{"field":"g"},"order":{"value":null}}},
{"data":{"name":"poly"},"transform":[{"filter":{"field":"g","oneOf":["a10L","a10R"]}}],"mark":{"type":"line","fill":"#e68c3f","stroke":"#a54d00","strokeWidth":7,"strokeJoin":"round","clip":true},"encoding":{"x":{"field":"x","type":"quantitative"},"y":{"field":"y","type":"quantitative"},"detail":{"field":"g"},"order":{"value":null}}},
{"data":{"name":"poly"},"transform":[{"filter":{"field":"g","oneOf":["a30L","a30R"]}}],"mark":{"type":"line","fill":"#e8623f","stroke":"#a52300","strokeWidth":7,"strokeJoin":"round","clip":true},"encoding":{"x":{"field":"x","type":"quantitative"},"y":{"field":"y","type":"quantitative"},"detail":{"field":"g"},"order":{"value":null}}},
{"data":{"name":"poly"},"transform":[{"filter":{"field":"g","oneOf":["a50L","a50R"]}}],"mark":{"type":"line","fill":"#e8623f","stroke":"#7a0403","strokeWidth":7,"strokeJoin":"round","clip":true},"encoding":{"x":{"field":"x","type":"quantitative"},"y":{"field":"y","type":"quantitative"},"detail":{"field":"g"},"order":{"value":null}}},
{"data":{"name":"black"},"mark":{"type":"line","stroke":"black","strokeWidth":10.5,"strokeJoin":"round","strokeCap":"round","clip":true},"encoding":{"x":{"field":"x","type":"quantitative"},"y":{"field":"y","type":"quantitative"},"detail":{"field":"g"},"order":{"value":null}}},
{"data":{"name":"star"},"mark":{"type":"point","shape":"M0,-1L0.2245,-0.309L0.951,-0.309L0.363,0.118L0.588,0.809L0,0.382L-0.588,0.809L-0.363,0.118L-0.951,-0.309L-0.2245,-0.309Z","size":8500,"filled":true,"fill":"#c11b17","stroke":"#9b2d6e","strokeWidth":2,"opacity":1},"encoding":{"x":{"field":"x","type":"quantitative"},"y":{"field":"y","type":"quantitative"}}},
{"data":{"values":[{}]},"mark":{"type":"rect","fill":"transparent","stroke":"black","strokeWidth":4},"encoding":{"x":{"datum":-0.35,"type":"quantitative"},"x2":{"datum":0.35},"y":{"datum":150,"type":"quantitative"},"y2":{"datum":1500}}},
{"data":{"values":[{}]},"mark":{"type":"rect","fill":"white","fillOpacity":0.8,"stroke":"#cccccc","strokeOpacity":0.8,"strokeWidth":3,"cornerRadius":10},"encoding":{"x":{"datum":-0.341,"type":"quantitative"},"x2":{"datum":-0.0382},"y":{"datum":1259.9,"type":"quantitative"},"y2":{"datum":1482.3}}},
{"data":{"values":[{}]},"mark":{"type":"text","align":"left","baseline":"alphabetic","fontSize":50,"lineHeight":51,"font":"Liberation Serif","color":"black"},"encoding":{"x":{"datum":-0.3327,"type":"quantitative"},"y":{"datum":1425.8,"type":"quantitative"},"text":{"value":["Type I","tan β = 10","m₁₂² = mH² cos² α/ tan β"]}}}
]
}
]},
{
"width":52,"height":1451,
"layer":[
{"data":{"name":"cb"},"mark":{"type":"rect"},"encoding":{
"x":{"datum":0,"type":"quantitative","scale":{"domain":[0,1],"nice":false,"zero":false},"axis":null},
"x2":{"datum":1},
"y":{"field":"lo","type":"quantitative","scale":{"domain":[-0.69,13.69],"nice":false,"zero":false},"axis":{"orient":"right","values":[0,1,2,3,4,5,6,7,8,9,10,11,12,13],"labelExpr":"['0.01 (0, 40)','0.5 (80, 2050)','0.6 (100, 2460)','0.7 (110, 2870)','0.8 (130, 3280)','0.95 (160, 3890)','1.05 (170, 4300)','1.3 (210, 5330)','1.5 (250, 6150)','2 (330, 8190)','5 (820, 20490)','10 (1640, 40970)','30 (4910, 122910)','50 (8180, 204850)'][datum.value]","labelFontSize":56,"labelLimit":1000,"tickSize":22,"tickWidth":2.5,"labelPadding":20,"labelFlush":false,"labelOverlap":false,"title":"σ/σSM (Events hhZ, Events hhνν̄)","titleFontSize":58,"titleAngle":270,"titleAlign":"center","titleBaseline":"middle","titleX":513,"titleY":725}},
"y2":{"field":"hi"},
"color":{"field":"b","type":"ordinal","scale":{"domain":[0,1,2,3,4,5,6,7,8,9,10,11,12],"range":["#3e3f8f","#4242c7","#4147e2","#427de6","#42aae6","#45dadc","#6de8b9","#93e98f","#bce86b","#dfe444","#e6b843","#e68c3f","#e8623f"]},"legend":null}
}},
{"data":{"name":"clev"},"mark":{"type":"rule","strokeWidth":4.5},"encoding":{"y":{"field":"lv","type":"quantitative"},"stroke":{"field":"lv","type":"ordinal","scale":{"domain":[0,1,2,3,4,5,6,7,8,9,10,11,12,13],"range":["#14103a","#05057a","#0b0bb0","#0b3cb4","#0a70ad","#119b9b","#23cc8c","#52dd4c","#8bc91f","#a2a200","#9f7b00","#a54d00","#a52300","#7a0403"]},"legend":null}}},
{"data":{"name":"ctri"},"transform":[{"filter":"datum.t == 'top'"}],"mark":{"type":"line","fill":"#e8623f","stroke":"#e8623f","strokeWidth":1},"encoding":{"x":{"field":"x","type":"quantitative"},"y":{"field":"y","type":"quantitative"},"order":{"value":null}}},
{"data":{"name":"ctri"},"transform":[{"filter":"datum.t == 'bot'"}],"mark":{"type":"line","fill":"#3e3f8f","stroke":"#3e3f8f","strokeWidth":1},"encoding":{"x":{"field":"x","type":"quantitative"},"y":{"field":"y","type":"quantitative"},"order":{"value":null}}},
{"data":{"name":"cout"},"mark":{"type":"line","stroke":"black","strokeWidth":5,"strokeJoin":"miter"},"encoding":{"x":{"field":"x","type":"quantitative"},"y":{"field":"y","type":"quantitative"},"order":{"value":null}}}
]
}
]
}
